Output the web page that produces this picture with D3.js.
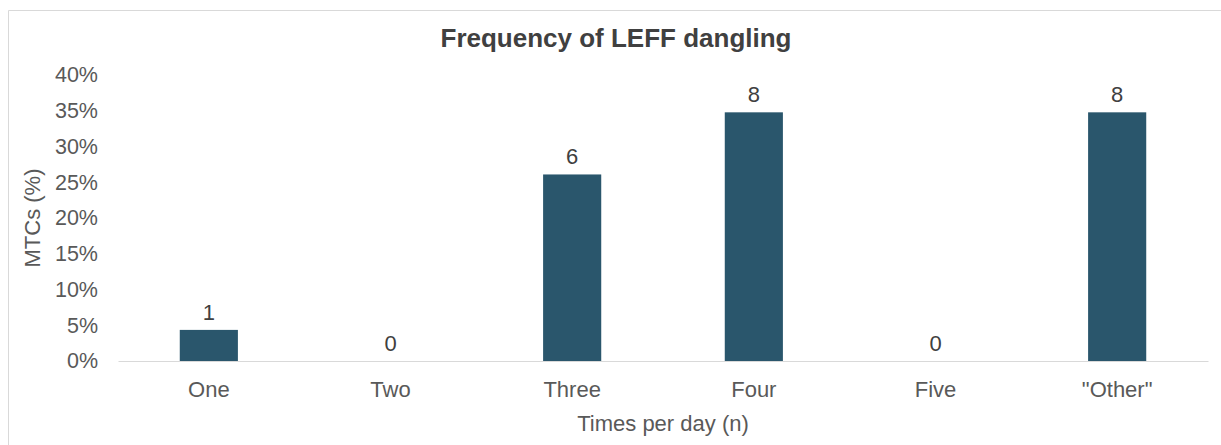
<!DOCTYPE html>
<html><head><meta charset="utf-8">
<script src="https://cdn.jsdelivr.net/npm/d3@7"></script>
<style>body{margin:0;background:#fff}svg{display:block}text{font-family:"Liberation Sans",Arial,sans-serif}</style>
</head><body><svg id="c" width="1221" height="445"></svg>
<script>
const categories = ["One","Two","Three","Four","Five","\"Other\""];
const counts = [1,0,6,8,0,8];
const percents = [4.35,0,26.09,34.78,0,34.78];
const yTicks = [0,5,10,15,20,25,30,35,40];

const svg = d3.select("#c");
const m = {l:118, r:1208, t:75, b:361};
svg.append("path").attr("d",`M8.5,445V10.5H1221`).attr("fill","none").attr("stroke","#d9d9d9").attr("stroke-width",1);

const x = d3.scaleBand().domain(categories).range([m.l,m.r]).padding(0);
const y = d3.scaleLinear().domain([0,40]).range([m.b,m.t]);
const bw = x.bandwidth()*0.32;

svg.append("text").attr("x",616).attr("y",47).attr("text-anchor","middle")
  .attr("font-size",26).attr("font-weight","bold").attr("fill","#404040").text("Frequency of LEFF dangling");

const ya = svg.append("g").attr("transform",`translate(${m.l},0)`)
  .call(d3.axisLeft(y).tickValues(yTicks).tickFormat(d=>d+"%").tickSize(0).tickPadding(20));
ya.select(".domain").remove();
ya.selectAll("text").attr("font-size",21.5).attr("fill","#595959").attr("font-family","Liberation Sans, Arial, sans-serif");

svg.append("g").selectAll("rect").data(categories).join("rect")
  .attr("x",(d)=>x(d)+x.bandwidth()/2-bw/2).attr("width",bw)
  .attr("y",(d,i)=>y(percents[i])).attr("height",(d,i)=>y(0)-y(percents[i]))
  .attr("fill","#2a566c");

const xa = svg.append("g").attr("transform",`translate(0,${m.b})`)
  .call(d3.axisBottom(x).tickSize(0).tickPadding(20));
xa.select(".domain").attr("stroke","#d9d9d9");
xa.selectAll("text").attr("font-size",22).attr("fill","#595959").attr("font-family","Liberation Sans, Arial, sans-serif");

svg.append("g").selectAll("text").data(categories).join("text")
  .attr("x",d=>x(d)+x.bandwidth()/2).attr("y",(d,i)=>y(percents[i])-10)
  .attr("text-anchor","middle").attr("font-size",22).attr("fill","#404040")
  .text((d,i)=>counts[i]);

svg.append("text").attr("transform","translate(40,218) rotate(-90)").attr("text-anchor","middle")
  .attr("font-size",22).attr("fill","#595959").text("MTCs (%)");
svg.append("text").attr("x",663).attr("y",431).attr("text-anchor","middle")
  .attr("font-size",22).attr("fill","#595959").text("Times per day (n)");
</script></body></html>
